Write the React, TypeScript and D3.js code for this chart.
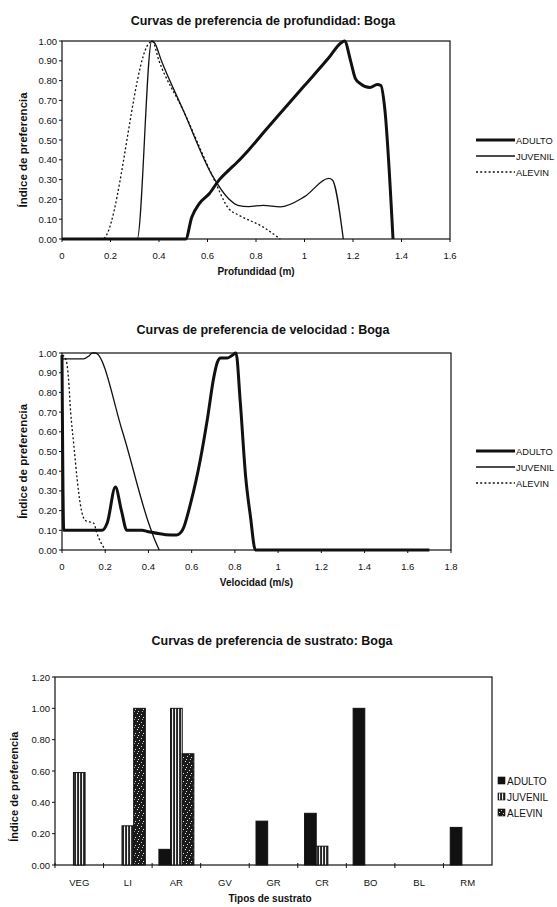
import React from "react";
import * as d3 from "d3";

// ---------- Data ----------
const SERIES_NAMES = ["ADULTO", "JUVENIL", "ALEVIN"];

// Profundidad (m)
const DEPTH_ADULTO_X = [0, 0.51, 0.535, 0.567, 0.608, 0.649, 0.69, 0.72, 0.77, 0.84, 0.9, 1.0, 1.1, 1.15, 1.165, 1.19, 1.21, 1.23, 1.27, 1.3, 1.315, 1.33, 1.365];
const DEPTH_ADULTO_Y = [0, 0, 0.11, 0.18, 0.23, 0.3, 0.35, 0.385, 0.45, 0.55, 0.635, 0.775, 0.915, 0.99, 1.0, 0.9, 0.81, 0.785, 0.765, 0.78, 0.775, 0.67, 0];
const DEPTH_JUVENIL_X = [0, 0.3, 0.31, 0.37, 0.382, 0.41, 0.5, 0.62, 0.69, 0.725, 0.77, 0.83, 0.9, 1.0, 1.1, 1.115, 1.16];
const DEPTH_JUVENIL_Y = [0, 0, 0, 1.0, 0.99, 0.9, 0.65, 0.32, 0.2, 0.17, 0.164, 0.17, 0.162, 0.214, 0.306, 0.298, 0];
const DEPTH_ALEVIN_X = [0, 0.167, 0.36, 0.372, 0.4, 0.5, 0.62, 0.69, 0.73, 0.83, 0.9];
const DEPTH_ALEVIN_Y = [0, 0, 0.99, 1.0, 0.9, 0.65, 0.32, 0.15, 0.12, 0.06, 0];
const DEPTH_TICKS = [0, 0.2, 0.4, 0.6, 0.8, 1, 1.2, 1.4, 1.6];

// Velocidad (m/s)
const VEL_ADULTO_X = [0, 0.008, 0.02, 0.1, 0.185, 0.21, 0.247, 0.275, 0.3, 0.34, 0.37, 0.4, 0.48, 0.53, 0.557, 0.595, 0.64, 0.672, 0.703, 0.718, 0.734, 0.765, 0.79, 0.805, 0.825, 0.85, 0.872, 0.895, 1.0, 1.7];
const VEL_ADULTO_Y = [0.99, 0.1, 0.1, 0.1, 0.1, 0.14, 0.32, 0.2, 0.1, 0.1, 0.1, 0.093, 0.078, 0.076, 0.1, 0.237, 0.458, 0.66, 0.88, 0.95, 0.975, 0.975, 0.99, 1.0, 0.75, 0.37, 0.17, 0, 0, 0];
const VEL_JUVENIL_X = [0, 0.1, 0.125, 0.14, 0.154, 0.28, 0.4, 0.43, 0.45];
const VEL_JUVENIL_Y = [0.97, 0.97, 0.985, 1.0, 1.0, 0.6, 0.14, 0.05, 0];
const VEL_ALEVIN_X = [0.003, 0.02, 0.03, 0.04, 0.055, 0.07, 0.085, 0.108, 0.147, 0.16, 0.2];
const VEL_ALEVIN_Y = [0.99, 0.96, 0.87, 0.7, 0.53, 0.36, 0.23, 0.15, 0.136, 0.09, 0];
const VEL_TICKS = [0, 0.2, 0.4, 0.6, 0.8, 1, 1.2, 1.4, 1.6, 1.8];

const PREF_TICKS = [0, 0.1, 0.2, 0.3, 0.4, 0.5, 0.6, 0.7, 0.8, 0.9, 1.0];

// Sustrato
const SUBSTRATES = ["VEG", "LI", "AR", "GV", "GR", "CR", "BO", "BL", "RM"];
const SUB_ADULTO = [0, 0, 0.1, 0, 0.28, 0.33, 1.0, 0, 0.24];
const SUB_JUVENIL = [0.59, 0.25, 1.0, 0, 0, 0.12, 0, 0, 0];
const SUB_ALEVIN = [0, 1.0, 0.71, 0, 0, 0, 0, 0, 0];
const SUB_TICKS = [0, 0.2, 0.4, 0.6, 0.8, 1.0, 1.2];

const FONT = "'Liberation Sans', Arial, sans-serif";
const INK = "#111";

const zip = (xs: number[], ys: number[]) => xs.map((x, i) => [x, ys[i]] as [number, number]);

const LINE_STYLES = [
  { width: 3, dash: undefined as string | undefined },
  { width: 1.3, dash: undefined as string | undefined },
  { width: 1.3, dash: "2,2.2" },
];

function LineChart(props: {
  title: string; titleY: number; xDomain: [number, number]; xRange: [number, number];
  yRange: [number, number]; xTicks: number[]; xTitle: string; series: [number, number][][];
  legendY: number;
}) {
  const { title, titleY, xDomain, xRange, yRange, xTicks, xTitle, series, legendY } = props;
  const x = d3.scaleLinear().domain(xDomain).range(xRange);
  const y = d3.scaleLinear().domain([0, 1]).range(yRange);
  const line = d3.line<[number, number]>().x(d => x(d[0])).y(d => y(d[1])).curve(d3.curveMonotoneX);
  const [x0, x1] = xRange;
  const [yb, yt] = yRange;
  const cx = (x0 + x1) / 2;
  const yFmt = d3.format(".2f");
  return (
    <g>
      <text x={263} y={titleY} textAnchor="middle" fontSize={12.5} fontWeight="bold" fill={INK}>{title}</text>
      <rect x={x0} y={yt} width={x1 - x0} height={yb - yt} fill="none" stroke={INK} strokeWidth={1.2} />
      {PREF_TICKS.map(t => (
        <g key={t}>
          <line x1={x0 - 3} x2={x0} y1={y(t)} y2={y(t)} stroke={INK} />
          <text x={x0 - 5} y={y(t) + 3.5} textAnchor="end" fontSize={9.5} fill={INK}>{yFmt(t)}</text>
        </g>
      ))}
      {xTicks.map(t => (
        <g key={t}>
          <line x1={x(t)} x2={x(t)} y1={yb} y2={yb + 3} stroke={INK} />
          <text x={x(t)} y={yb + 19.5} textAnchor="middle" fontSize={9.5} fill={INK}>{String(+t.toFixed(1))}</text>
        </g>
      ))}
      <text x={cx} y={yb + 36} textAnchor="middle" fontSize={10} fontWeight="bold" fill={INK}>{xTitle}</text>
      <text transform={`translate(27,${y(0.45)}) rotate(-90)`} textAnchor="middle" fontSize={11.5} fontWeight="bold" fill={INK}>Índice de preferencia</text>
      {series.map((s, i) => (
        <path key={i} d={line(s) || ""} fill="none" stroke={INK} strokeWidth={LINE_STYLES[i].width}
          strokeDasharray={LINE_STYLES[i].dash} strokeLinejoin="round" />
      ))}
      {SERIES_NAMES.map((n, i) => (
        <g key={n}>
          <line x1={476} x2={515} y1={legendY + i * 16} y2={legendY + i * 16} stroke={INK}
            strokeWidth={LINE_STYLES[i].width} strokeDasharray={LINE_STYLES[i].dash} />
          <text x={516} y={legendY + i * 16 + 3.5} fontSize={9.3} fill={INK}>{n}</text>
        </g>
      ))}
    </g>
  );
}

function BarChart() {
  const x0 = 55, x1 = 492, yb = 865, yt = 677;
  const x = d3.scaleBand<string>().domain(SUBSTRATES).range([x0, x1]).paddingInner(0.28).paddingOuter(0.14);
  const sub = d3.scaleBand<string>().domain(SERIES_NAMES).range([0, x.bandwidth()]);
  const y = d3.scaleLinear().domain([0, 1.2]).range([yb, yt]);
  const values = [SUB_ADULTO, SUB_JUVENIL, SUB_ALEVIN];
  const fills = [INK, "url(#stripes)", "url(#speckle)"];
  const step = (x1 - x0) / SUBSTRATES.length;
  const yFmt = d3.format(".2f");
  const legendY = 781;
  return (
    <g>
      <defs>
        <pattern id="stripes" patternUnits="userSpaceOnUse" width={3} height={4}>
          <rect width={3} height={4} fill="#222" />
          <rect x={1} width={1.1} height={4} fill="#f4f4f4" />
        </pattern>
        <pattern id="speckle" patternUnits="userSpaceOnUse" width={8} height={8}>
          <rect width={8} height={8} fill="#1a1a1a" />
          <rect x={1} y={1} width={1} height={1} fill="#ddd" />
          <rect x={5} y={2} width={1} height={1} fill="#ddd" />
          <rect x={3} y={4} width={1} height={1} fill="#ddd" />
          <rect x={7} y={5} width={1} height={1} fill="#ddd" />
          <rect x={2} y={7} width={1} height={1} fill="#ddd" />
          <rect x={6} y={7} width={1} height={1} fill="#bbb" />
        </pattern>
      </defs>
      <text x={272} y={645} textAnchor="middle" fontSize={12.5} fontWeight="bold" fill={INK}>Curvas de preferencia de sustrato: Boga</text>
      <rect x={x0} y={yt} width={x1 - x0} height={yb - yt} fill="none" stroke={INK} strokeWidth={1.2} />
      {SUB_TICKS.map(t => (
        <g key={t}>
          <line x1={x0 - 3} x2={x0} y1={y(t)} y2={y(t)} stroke={INK} />
          <text x={x0 - 5} y={y(t) + 3.5} textAnchor="end" fontSize={9.5} fill={INK}>{yFmt(t)}</text>
        </g>
      ))}
      {SUBSTRATES.map((c, i) => (
        <g key={c}>
          <line x1={x0 + step * i} x2={x0 + step * i} y1={yb - 2} y2={yb + 3} stroke={INK} />
          <text x={(x(c) || 0) + x.bandwidth() / 2} y={yb + 20.5} textAnchor="middle" fontSize={9.5} fill={INK}>{c}</text>
        </g>
      ))}
      {values.map((vals, si) =>
        vals.map((v, ci) => v > 0 ? (
          <rect key={`${si}-${ci}`} x={(x(SUBSTRATES[ci]) || 0) + (sub(SERIES_NAMES[si]) || 0)} y={y(v)}
            width={sub.bandwidth()} height={yb - y(v)} fill={fills[si]} stroke={INK} strokeWidth={1} />
        ) : null)
      )}
      <text x={270} y={901.5} textAnchor="middle" fontSize={10} fontWeight="bold" fill={INK}>Tipos de sustrato</text>
      <text transform={`translate(18,${y(0.5)}) rotate(-90)`} textAnchor="middle" fontSize={11} fontWeight="bold" fill={INK}>Índice de preferencia</text>
      {SERIES_NAMES.map((n, i) => (
        <g key={n}>
          <rect x={498} y={legendY + i * 16 - 4} width={7} height={7} fill={fills[i]} stroke={INK} strokeWidth={0.6} />
          <text x={507} y={legendY + i * 16 + 3.5} fontSize={10} fill={INK}>{n}</text>
        </g>
      ))}
    </g>
  );
}

export default function App() {
  const depthSeries = [
    zip(DEPTH_ADULTO_X, DEPTH_ADULTO_Y),
    zip(DEPTH_JUVENIL_X, DEPTH_JUVENIL_Y),
    zip(DEPTH_ALEVIN_X, DEPTH_ALEVIN_Y),
  ];
  const velSeries = [
    zip(VEL_ADULTO_X, VEL_ADULTO_Y),
    zip(VEL_JUVENIL_X, VEL_JUVENIL_Y),
    zip(VEL_ALEVIN_X, VEL_ALEVIN_Y),
  ];
  return (
    <svg width={557} height={907} style={{ position: "absolute", left: 0, top: 0, background: "#fff" }}
      fontFamily={FONT}>
      <rect width={557} height={907} fill="#fff" />
      <LineChart title="Curvas de preferencia de profundidad: Boga" titleY={25} xDomain={[0, 1.6]} xRange={[62, 450]}
        yRange={[239, 41]} xTicks={DEPTH_TICKS} xTitle="Profundidad (m)" series={depthSeries} legendY={140} />
      <LineChart title="Curvas de preferencia de velocidad : Boga" titleY={334} xDomain={[0, 1.8]} xRange={[62, 451]}
        yRange={[550, 353]} xTicks={VEL_TICKS} xTitle="Velocidad (m/s)" series={velSeries} legendY={451} />
      <BarChart />
    </svg>
  );
}
